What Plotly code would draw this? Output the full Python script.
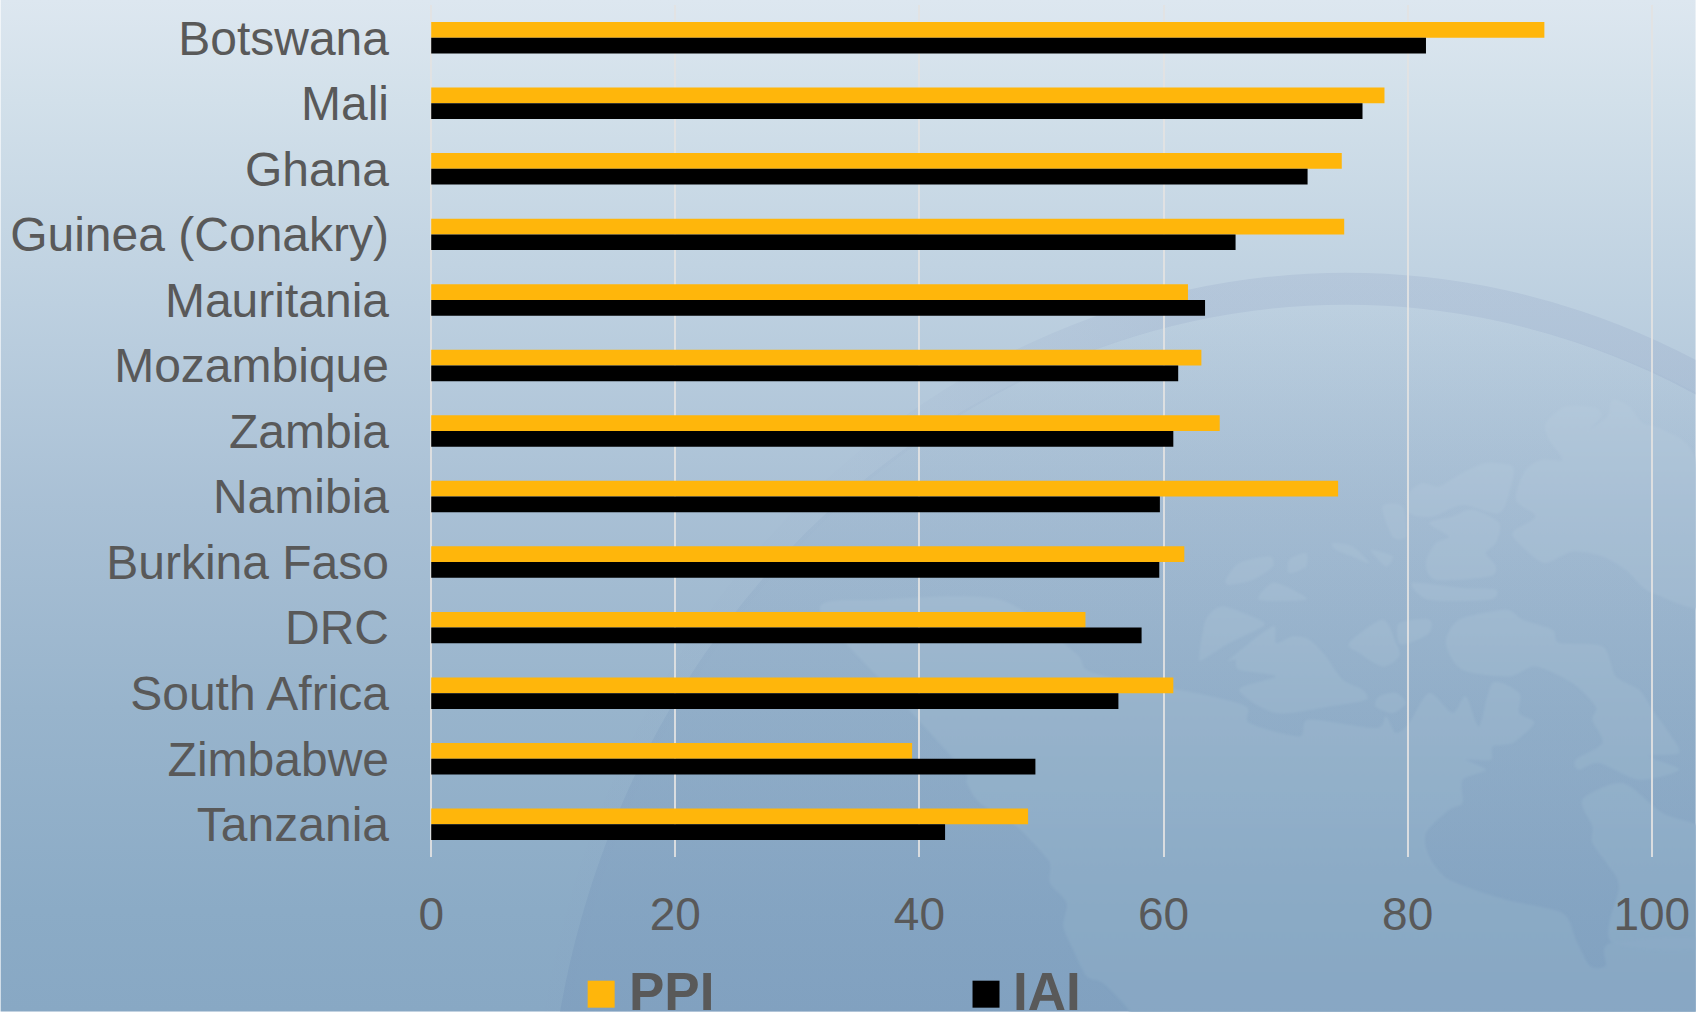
import base64
import plotly.graph_objects as go

countries = ["Botswana", "Mali", "Ghana", "Guinea (Conakry)", "Mauritania", "Mozambique", "Zambia",
             "Namibia", "Burkina Faso", "DRC", "South Africa", "Zimbabwe", "Tanzania"]
ppi = [91.2, 78.1, 74.6, 74.8, 62.0, 63.1, 64.6, 74.3, 61.7, 53.6, 60.8, 39.4, 48.9]
iai = [81.5, 76.3, 71.8, 65.9, 63.4, 61.2, 60.8, 59.7, 59.65, 58.2, 56.3, 49.5, 42.1]
x_ticks = [0, 20, 40, 60, 80, 100]

W, H = 1696, 1012
PAD = 0.1  # axis range overhang so that plotly keeps the gridlines at 0 and 100
UNIT = 12.211
L, R, T, B = 431.0 - PAD * UNIT, 1652.0 + PAD * UNIT, 5.2, 857.3
PW, PH = R - L, B - T
TEXT = "#595959"
ORANGE = "#FFB60B"


def conv(pts, x0, y0, k=3.0):
    return [(x0 + a / k, y0 + b / k) for a, b in pts]


def z5(p):
    return conv(p, 1196, 260)


def z6(p):
    return conv(p, 1196, 600)


def z8(p):
    return conv(p, 960, 770)


# Decorative globe backdrop: land masses (rough outlines, picture coordinates)
lands = [
    z5([(1050, 490), (1110, 440), (1200, 445), (1215, 470), (1180, 510), (1235, 470), (1250, 420), (1300, 440),
        (1340, 490), (1400, 510), (1500, 600), (1560, 1030), (1370, 1000), (1290, 930), (1220, 890), (1130, 875),
        (1050, 910), (1000, 880), (950, 820), (1020, 770), (960, 720), (990, 630), (1040, 600), (1100, 600), (1060, 540)]),
    z5([(640, 700), (680, 670), (730, 680), (800, 640), (870, 610), (950, 620), (945, 680), (910, 760), (800, 735),
        (710, 770), (640, 760)]),
    z5([(770, 770), (830, 750), (910, 790), (900, 850), (870, 880), (900, 920), (880, 950), (720, 960), (690, 910),
        (720, 850), (760, 830), (700, 790)]),
    z5([(560, 740), (620, 740), (630, 830), (590, 830)]),
    z5([(90, 960), (130, 910), (220, 890), (230, 920), (170, 960), (100, 975)]),
    z5([(280, 900), (330, 880), (330, 920), (280, 940)]),
    z5([(410, 850), (470, 860), (520, 910), (470, 890), (420, 870)]),
    z5([(530, 870), (590, 890), (570, 920), (530, 880)]),
    z5([(650, 970), (800, 985), (900, 990), (880, 1020), (700, 1020)]),
    z5([(190, 1020), (230, 970), (290, 990), (330, 1020)]),
    z6([(10, 170), (30, 60), (80, 20), (190, 60), (200, 80), (100, 130), (20, 180)]),
    z6([(100, 180), (230, 80), (240, 130), (290, 110), (340, 120), (390, 170), (440, 240), (500, 270), (510, 300),
        (400, 320), (240, 340), (130, 270), (240, 230), (130, 210), (120, 180)]),
    z6([(460, 130), (560, 60), (600, 130), (610, 170), (560, 200), (490, 160)]),
    z6([(550, 290), (600, 280), (630, 310), (590, 340), (540, 320)]),
    z6([(610, 70), (700, 60), (700, 100), (640, 130), (610, 130)]),
    z6([(750, 130), (790, 60), (930, 30), (980, 60), (1070, 90), (1090, 130), (1220, 140), (1260, 230), (1330, 270),
        (1370, 330), (1420, 400), (1450, 460), (1360, 470), (1450, 510), (1330, 540), (1210, 490), (1150, 510),
        (1140, 480), (1220, 430), (1190, 360), (1200, 320), (1130, 250), (1020, 200), (940, 230), (800, 210)]),
    z6([(1160, 600), (1190, 680), (1190, 730), (1240, 800), (1270, 860), (1250, 1030), (1560, 1030), (1560, 720),
        (1400, 640), (1280, 550)]),
    z6([(0, 280), (150, 320), (160, 370), (310, 410), (340, 360), (540, 385), (570, 350), (600, 400), (640, 370),
        (700, 280), (770, 340), (810, 290), (850, 380), (890, 250), (970, 280), (970, 340), (1015, 370), (950, 430),
        (890, 440), (885, 480), (810, 480), (870, 510), (800, 540), (800, 610), (760, 630), (690, 700), (700, 770),
        (760, 840), (930, 900), (1100, 940)])
    + [(1576, 940), (1590, 966), (1606, 966), (1612, 943), (1720, 943), (1720, 1030), (1130, 1030)]
    + z8([(510, 726), (430, 640), (380, 620), (340, 540), (310, 470), (320, 400), (270, 340), (270, 280), (220, 220),
          (170, 170), (60, 100), (20, 40), (10, 0)])
    + [(900, 700), (820, 610), (880, 600), (1000, 600), (1075, 653), (1093, 673)],
]


def smooth(p, t=0.8):
    """Closed Catmull-Rom outline as SVG cubic segments."""
    n = len(p)
    d = f"M{p[0][0]:.1f},{p[0][1]:.1f}"
    for i in range(n):
        p0, p1, p2, p3 = p[i - 1], p[i], p[(i + 1) % n], p[(i + 2) % n]
        c1 = (p1[0] + (p2[0] - p0[0]) * t / 6, p1[1] + (p2[1] - p0[1]) * t / 6)
        c2 = (p2[0] - (p3[0] - p1[0]) * t / 6, p2[1] - (p3[1] - p1[1]) * t / 6)
        d += f" C{c1[0]:.1f},{c1[1]:.1f} {c2[0]:.1f},{c2[1]:.1f} {p2[0]:.1f},{p2[1]:.1f}"
    return d + " Z"


land_paths = "".join(f'<path d="{smooth(p)}"/>' for p in lands)

svg = f'''<svg xmlns="http://www.w3.org/2000/svg" width="{W}" height="{H}" viewBox="0 0 {W} {H}">
<defs>
<linearGradient id="bg" gradientUnits="userSpaceOnUse" x1="0" y1="0" x2="0" y2="{H}">
<stop offset="0" stop-color="#dde7f0"/><stop offset="0.1" stop-color="#d2e0ea"/>
<stop offset="0.3" stop-color="#bdd0e0"/><stop offset="0.5" stop-color="#a9c0d5"/>
<stop offset="0.7" stop-color="#98b4cc"/><stop offset="0.9" stop-color="#8babc6"/>
<stop offset="1" stop-color="#88a8c4"/></linearGradient>
<linearGradient id="sea" gradientUnits="userSpaceOnUse" x1="0" y1="305" x2="0" y2="{H}">
<stop offset="0" stop-color="#6f8fb5" stop-opacity="0"/><stop offset="0.2" stop-color="#6f8fb5" stop-opacity="0.07"/>
<stop offset="0.55" stop-color="#6f8fb5" stop-opacity="0.17"/><stop offset="1" stop-color="#6f8fb5" stop-opacity="0.28"/></linearGradient>
<linearGradient id="rim" gradientUnits="userSpaceOnUse" x1="850" y1="0" x2="1400" y2="0">
<stop offset="0" stop-color="#8a9cc0" stop-opacity="0.03"/><stop offset="0.6" stop-color="#8a9cc0" stop-opacity="0.2"/>
<stop offset="1" stop-color="#8a9cc0" stop-opacity="0.2"/></linearGradient>
<filter id="soft" x="-5%" y="-5%" width="110%" height="110%"><feGaussianBlur stdDeviation="1.3"/></filter>
</defs>
<rect width="{W}" height="{H}" fill="url(#bg)"/>
<path fill="url(#rim)" fill-rule="evenodd" d="M531,1173 a815,900 0 1,0 1630,0 a815,900 0 1,0 -1630,0 Z M556,1173 a790,868 0 1,0 1580,0 a790,868 0 1,0 -1580,0 Z"/>
<ellipse cx="1346" cy="1173" rx="800" ry="868" fill="url(#sea)"/>
<g fill="url(#bg)" fill-opacity="0.85" filter="url(#soft)">{land_paths}</g>
</svg>'''
bg_uri = "data:image/svg+xml;base64," + base64.b64encode(svg.encode()).decode()


def px(x):
    return (x - L) / PW


def py(y):
    return (B - y) / PH


fig = go.Figure()
fig.add_bar(y=countries, x=ppi, name="PPI", orientation="h", marker=dict(color=ORANGE, line_width=0), showlegend=False)
fig.add_bar(y=countries, x=iai, name="IAI", orientation="h", marker=dict(color="#000000", line_width=0), showlegend=False)

fig.update_layout(
    width=W, height=H, autosize=False,
    margin=dict(l=L, r=W - R, t=T, b=H - B, pad=0),
    paper_bgcolor="rgba(0,0,0,0)", plot_bgcolor="rgba(0,0,0,0)",
    barmode="group", bargap=0.52, bargroupgap=0,
    font=dict(family="Liberation Sans, Arial, sans-serif", color=TEXT),
    images=[dict(source=bg_uri, xref="paper", yref="paper", x=px(0), y=py(0),
                 sizex=W / PW, sizey=H / PH, xanchor="left", yanchor="top",
                 sizing="stretch", layer="below")],
    shapes=[
        dict(type="rect", xref="paper", yref="paper", x0=px(587.5), x1=px(614.5), y0=py(981), y1=py(1008),
             fillcolor=ORANGE, line_width=0),
        dict(type="rect", xref="paper", yref="paper", x0=px(972.5), x1=px(999.5), y0=py(981), y1=py(1008),
             fillcolor="#000000", line_width=0),
    ],
    annotations=[
        dict(text="<b>PPI</b>", xref="paper", yref="paper", x=px(626.5), y=py(992), xanchor="left", yanchor="middle",
             showarrow=False, font=dict(size=53, color=TEXT)),
        dict(text="<b>IAI</b>", xref="paper", yref="paper", x=px(1010.5), y=py(992), xanchor="left", yanchor="middle",
             showarrow=False, font=dict(size=53, color=TEXT)),
    ],
)
fig.update_xaxes(range=[-PAD, 100 + PAD], tickvals=x_ticks, showgrid=True, gridcolor="rgba(226,226,226,0.9)", gridwidth=2,
                 zeroline=False, showline=False, ticks="", ticklabelstandoff=26,
                 tickfont=dict(size=46, color=TEXT))
fig.update_yaxes(categoryorder="array", categoryarray=countries, autorange="reversed", showgrid=False,
                 zeroline=False, showline=False, ticks="", ticklabelstandoff=40,
                 tickfont=dict(size=48, color=TEXT))

fig.write_html("out.html", config={"displayModeBar": False},
               post_script="document.body.style.margin='0';document.body.style.overflow='hidden';")
